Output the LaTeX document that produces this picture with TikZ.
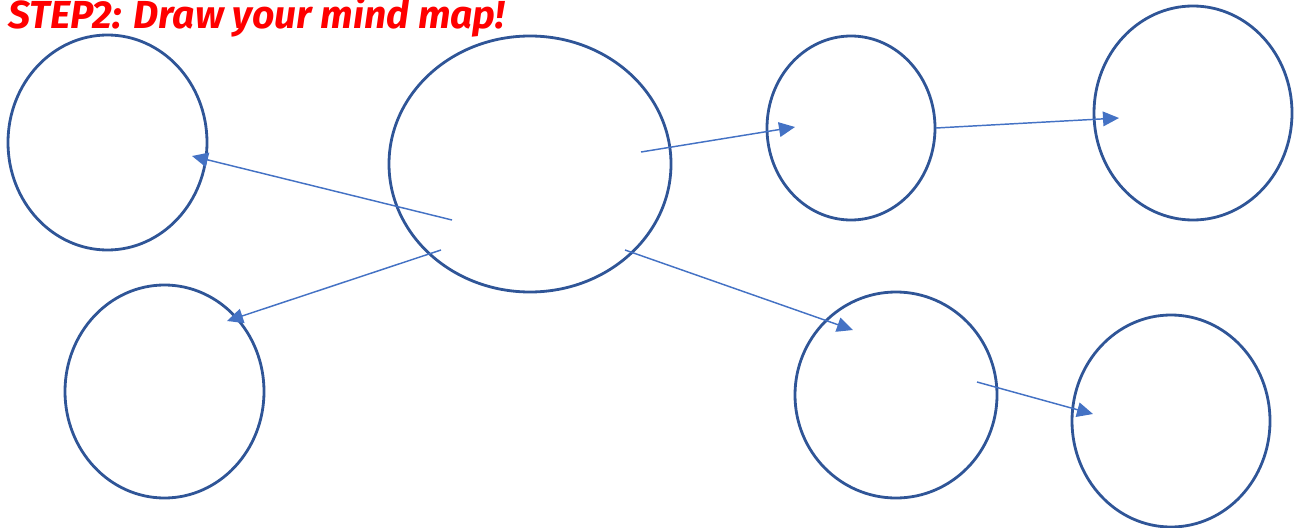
\documentclass[tikz,border=0pt]{standalone}
\usepackage{fontspec}
\setmainfont{Fira Sans}
\usetikzlibrary{shapes.geometric,arrows.meta}
\definecolor{ringblue}{HTML}{2F5597}
\definecolor{arrowblue}{HTML}{4472C4}
\definecolor{titlered}{HTML}{FF0000}
\begin{document}
\begin{tikzpicture}[x=0.75pt,y=-0.75pt,
  bubble/.style={draw=ringblue,line width=2.1pt,ellipse,inner sep=0pt},
  link/.style={draw=arrowblue,line width=1.1pt,-{Triangle[length=12pt,width=11pt]}}]
\useasboundingbox (0,0) rectangle (1306,528);
\node[anchor=base west,text=titlered,font=\fontsize{29.3}{32}\selectfont\bfseries\itshape,inner sep=0pt] (title) at (8,29) {STEP2: Draw your mind map!};
\node[bubble,minimum width=199pt*0.75,minimum height=215pt*0.75] (n1) at (107.5,142.5) {};
\node[bubble,minimum width=282pt*0.75,minimum height=256pt*0.75] (c) at (530,164) {};
\node[bubble,minimum width=168pt*0.75,minimum height=184pt*0.75] (n3) at (851,128) {};
\node[bubble,minimum width=198pt*0.75,minimum height=214pt*0.75] (n4) at (1193,113) {};
\node[bubble,minimum width=199pt*0.75,minimum height=213pt*0.75] (n5) at (164.5,391.5) {};
\node[bubble,minimum width=202pt*0.75,minimum height=206pt*0.75] (n6) at (896,395) {};
\node[bubble,minimum width=198pt*0.75,minimum height=212pt*0.75] (n7) at (1171,421) {};
\coordinate (a1) at (452,220); \coordinate (a2) at (192,156);
\coordinate (b1) at (441,250); \coordinate (b2) at (227,321);
\coordinate (c1) at (641,152); \coordinate (c2) at (795,127);
\coordinate (d1) at (936,128); \coordinate (d2) at (1119,118);
\coordinate (e1) at (625,250); \coordinate (e2) at (853,330);
\coordinate (f1) at (977,382); \coordinate (f2) at (1093,414);
\draw[link] (a1) -- (a2);
\draw[link] (b1) -- (b2);
\draw[link] (c1) -- (c2);
\draw[link] (d1) -- (d2);
\draw[link] (e1) -- (e2);
\draw[link] (f1) -- (f2);
\end{tikzpicture}
\end{document}
